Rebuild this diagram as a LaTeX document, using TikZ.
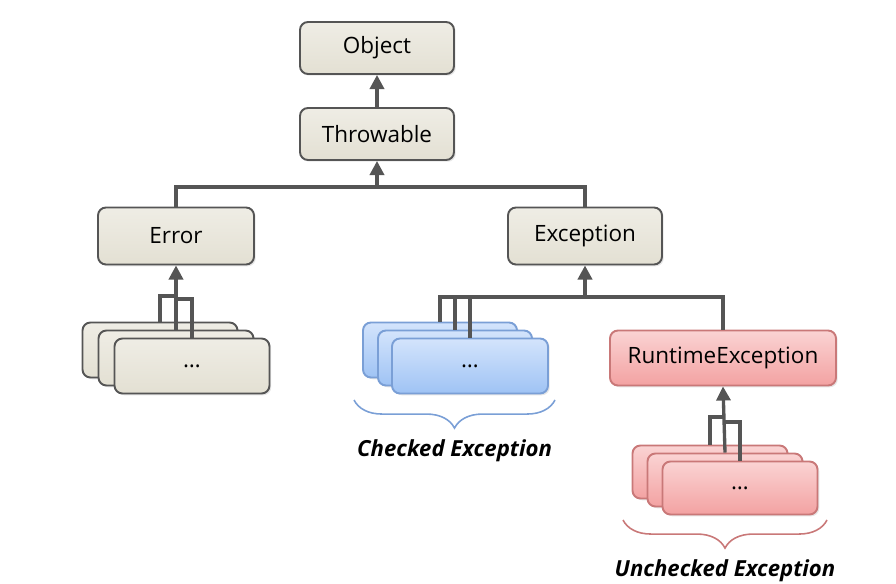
\documentclass[tikz,border=0pt]{standalone}
\usepackage{fontspec}
\setmainfont{Open Sans}
\usetikzlibrary{arrows.meta,positioning,shadows,decorations.pathreplacing}
\definecolor{linec}{HTML}{555555}
\definecolor{beigetop}{HTML}{EFEDE5}
\definecolor{beigebot}{HTML}{E3E0D3}
\definecolor{bluetop}{HTML}{D3E4FC}
\definecolor{bluebot}{HTML}{9FC3F4}
\definecolor{bluec}{HTML}{7A9FD6}
\definecolor{redtop}{HTML}{FAD3D3}
\definecolor{redbot}{HTML}{F3A2A2}
\definecolor{redc}{HTML}{C97878}

\begin{document}
\begin{tikzpicture}[
    x=0.02cm, y=-0.02cm,
    font=\fontsize{12.8}{15}\selectfont,
    box/.style={rounded corners=4.5pt,draw=#1,line width=1.1pt,inner sep=0pt,
      drop shadow={opacity=0.2,shadow xshift=1pt,shadow yshift=-1pt}},
    plain/.style={box=linec,top color=beigetop,bottom color=beigebot},
    bluebox/.style={box=bluec,top color=bluetop,bottom color=bluebot},
    redbox/.style={box=redc,top color=redtop,bottom color=redbot},
    wire/.style={draw=linec,line width=1.9pt},
    up/.style={wire,-{Triangle[length=8pt,width=8pt]}},
    cbrace/.style={decorate,decoration={brace,mirror,amplitude=16pt},line width=0.9pt},
    lbl/.style={font=\fontsize{12.6}{15}\selectfont\bfseries\itshape},
  ]
\useasboundingbox (0,0) rectangle (896,584);

% ======================= top of the tree =======================
\node[plain,minimum width=3.08cm,minimum height=1.04cm] (obj) at (377,48) {Object};
\node[plain,minimum width=3.08cm,minimum height=1.04cm] (thr) at (377,134) {Throwable};
\node[plain,minimum width=3.12cm,minimum height=1.14cm] (err) at (176,236) {Error};
\node[plain,minimum width=3.08cm,minimum height=1.14cm] (exc) at (585,236) {Exception};

\coordinate (topJ) at (377,187);
\draw[up] (thr) -- (obj);
\draw[wire] (err.north) |- (topJ);
\draw[wire] (exc.north) |- (topJ);
\draw[up] (topJ) -- (thr.south);

% ======================= Error subclasses =======================
\node[plain,minimum width=3.1cm,minimum height=1.1cm] (errS1) at (160,350) {};
\node[plain,minimum width=3.1cm,minimum height=1.1cm] (errS2) at (176,358) {};
\node[plain,minimum width=3.1cm,minimum height=1.1cm] (errS3) at (192,366) {\dots};

\coordinate (errJa) at (176,296);
\coordinate (errJb) at (176,299);
\draw[wire] (errS1.north) |- (errJa);
\draw[wire] (errS3.north) |- (errJb);
\draw[up] (errS2.north) -- (err.south);

% ======================= Exception subclasses =======================
\node[bluebox,minimum width=3.08cm,minimum height=1.1cm] (chk1) at (440,350) {};
\node[bluebox,minimum width=3.08cm,minimum height=1.1cm] (chk2) at (455,358) {};
\node[bluebox,minimum width=3.12cm,minimum height=1.1cm] (chk3) at (470,366) {\dots};
\node[redbox,minimum width=4.52cm,minimum height=1.1cm] (rt) at (723,358) {RuntimeException};

\coordinate (excJ) at (585,297);
\draw[wire] (chk1.north) |- (excJ);
\draw[wire] (chk2.north) |- (excJ);
\draw[wire] (chk3.north) |- (excJ);
\draw[wire] (rt.north) |- (excJ);
\draw[up,line width=2.5pt] (excJ) -- (exc.south);

% ======================= RuntimeException subclasses =======================
\node[redbox,minimum width=3.1cm,minimum height=1.06cm] (unc1) at (710,472) {};
\node[redbox,minimum width=3.1cm,minimum height=1.06cm] (unc2) at (725,480) {};
\node[redbox,minimum width=3.1cm,minimum height=1.06cm] (unc3) at (740,488) {\dots};

\coordinate (rtJa) at (725,417);
\coordinate (rtJb) at (725,422);
\draw[wire] (unc1.north) |- (rtJa);
\draw[wire] (unc3.north) |- (rtJb);
\draw[up] (unc2.north) -- (rt.south);

% ======================= braces and captions =======================
\coordinate (chkL) at (354,400);
\coordinate (chkR) at (555,400);
\draw[cbrace,bluec] (chkL) -- (chkR) coordinate[midway,yshift=-19pt] (chkM);
\node[lbl,below=0pt of chkM] (chkTxt) {Checked Exception};

\coordinate (uncL) at (623,520);
\coordinate (uncR) at (827,520);
\draw[cbrace,redc] (uncL) -- (uncR) coordinate[midway,yshift=-19pt] (uncM);
\node[lbl,below=0pt of uncM] (uncTxt) {Unchecked Exception};

\end{tikzpicture}
\end{document}
